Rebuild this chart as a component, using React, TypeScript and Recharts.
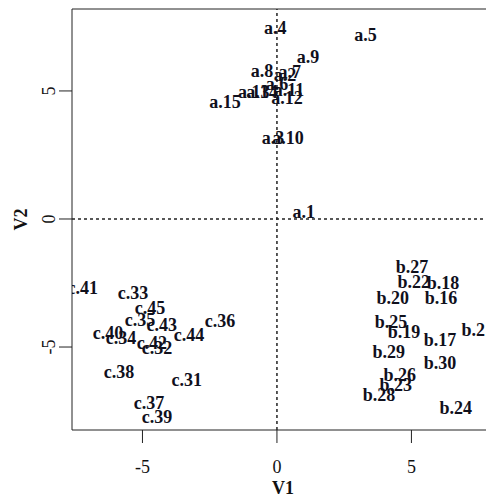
import React from 'react';
import { ScatterChart, Scatter, XAxis, YAxis, ReferenceLine } from 'recharts';

const A_LABELS = ['a.1','a.2','a.3','a.4','a.5','a.6','a.7','a.8','a.9','a.10','a.11','a.12','a.13','a.14','a.15'];
const A_V1 = [1.0, 0.30, -0.15, -0.06, 3.29, 0.0, 0.48, -0.56, 1.15, 0.41, 0.45, 0.37, -0.86, -0.56, -1.93];
const A_V2 = [0.27, 5.63, 3.16, 7.46, 7.19, 5.27, 5.74, 5.78, 6.33, 3.16, 5.04, 4.73, 4.96, 4.96, 4.57];

const B_LABELS = ['b.16','b.17','b.18','b.19','b.20','b.21','b.22','b.23','b.24','b.25','b.26','b.27','b.28','b.29','b.30'];
const B_V1 = [6.10, 6.06, 6.17, 4.72, 4.31, 7.47, 5.09, 4.42, 6.65, 4.24, 4.57, 5.02, 3.79, 4.16, 6.06];
const B_V2 = [-3.09, -4.73, -2.5, -4.41, -3.09, -4.34, -2.46, -6.48, -7.38, -4.02, -6.09, -1.87, -6.88, -5.2, -5.63];

const C_LABELS = ['c.31','c.32','c.33','c.34','c.35','c.36','c.37','c.38','c.39','c.40','c.41','c.42','c.43','c.44','c.45'];
const C_V1 = [-3.35, -4.46, -5.35, -5.8, -5.09, -2.12, -4.76, -5.87, -4.46, -6.28, -7.22, -4.65, -4.28, -3.27, -4.72];
const C_V2 = [-6.29, -5.04, -2.89, -4.65, -3.95, -3.98, -7.19, -5.98, -7.73, -4.45, -2.7, -4.84, -4.14, -4.53, -3.48];

const X_TICKS = [-5, 0, 5];
const Y_TICKS = [-5, 0, 5];
const X_DOMAIN: [number, number] = [-7.62, 8.07];
const Y_DOMAIN: [number, number] = [-8.24, 8.2];

const build = (labels: string[], xs: number[], ys: number[]) =>
  labels.map((label, i) => ({ x: xs[i], y: ys[i], label }));

const data = [
  ...build(A_LABELS, A_V1, A_V2),
  ...build(B_LABELS, B_V1, B_V2),
  ...build(C_LABELS, C_V1, C_V2),
];

const SERIF = '"Liberation Serif", "DejaVu Serif", serif';

const LabelShape = (props: any) => {
  const { cx, cy, payload } = props;
  return (
    <text
      x={cx}
      y={cy}
      textAnchor="middle"
      dominantBaseline="central"
      fontFamily={SERIF}
      fontWeight="bold"
      fontSize={18}
      fill="#10101c"
    >
      {payload.label}
    </text>
  );
};

const XTick = (props: any) => {
  const { x, y, payload } = props;
  return (
    <text x={x} y={y + 22} textAnchor="middle" dominantBaseline="central" fontFamily={SERIF} fontSize={18} fill="#111">
      {payload.value}
    </text>
  );
};

const YTick = (props: any) => {
  const { x, y, payload } = props;
  const tx = x - 8;
  return (
    <text
      x={tx}
      y={y}
      textAnchor="middle"
      dominantBaseline="central"
      fontFamily={SERIF}
      fontSize={18}
      fill="#111"
      transform={`rotate(-90 ${tx} ${y})`}
    >
      {payload.value}
    </text>
  );
};

const XLabel = (props: any) => {
  const { viewBox } = props;
  const cx = viewBox.x + viewBox.width / 2;
  const cy = viewBox.y + 58;
  return (
    <text x={cx} y={cy} textAnchor="middle" dominantBaseline="central" fontFamily={SERIF} fontWeight="bold" fontSize={18} fill="#111">
      V1
    </text>
  );
};

const YLabel = (props: any) => {
  const { viewBox } = props;
  const cx = viewBox.x + 21;
  const cy = viewBox.y + viewBox.height / 2;
  return (
    <text
      x={cx}
      y={cy}
      textAnchor="middle"
      dominantBaseline="central"
      fontFamily={SERIF}
      fontWeight="bold"
      fontSize={18}
      fill="#111"
      transform={`rotate(-90 ${cx} ${cy})`}
    >
      V2
    </text>
  );
};

export default function App() {
  return (
    <div style={{ position: 'fixed', left: 0, top: 0, width: 486, height: 494, overflow: 'hidden', background: '#fff' }}>
      <ScatterChart width={494} height={494} margin={{ top: 9, right: 0, bottom: 0, left: 0 }}>
        <XAxis
          type="number"
          dataKey="x"
          domain={X_DOMAIN}
          ticks={X_TICKS}
          allowDataOverflow
          tickSize={13}
          height={64}
          stroke="#222"
          tickLine={{ stroke: '#222' }}
          tick={<XTick />}
          label={<XLabel />}
        />
        <YAxis
          type="number"
          dataKey="y"
          domain={Y_DOMAIN}
          ticks={Y_TICKS}
          allowDataOverflow
          tickSize={13}
          width={72}
          stroke="#222"
          tickLine={{ stroke: '#222' }}
          tick={<YTick />}
          label={<YLabel />}
        />
        <ReferenceLine y={Y_DOMAIN[1]} stroke="#222" />
        <ReferenceLine x={0} stroke="#222" strokeDasharray="3 3" strokeWidth={1.5} />
        <ReferenceLine y={0} stroke="#222" strokeDasharray="3 3" strokeWidth={1.5} />
        <Scatter data={data} shape={<LabelShape />} isAnimationActive={false} />
      </ScatterChart>
    </div>
  );
}
